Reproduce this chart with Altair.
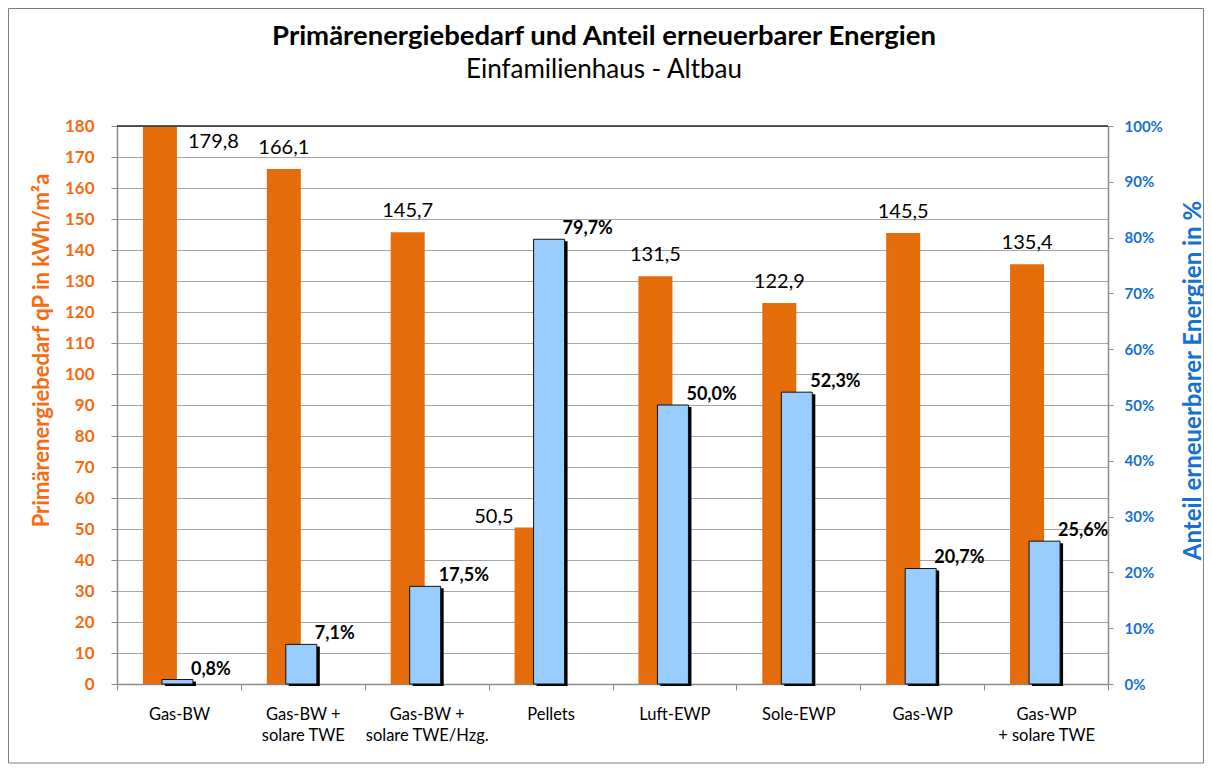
import altair as alt
import pandas as pd

categories = ["Gas-BW", "Gas-BW +|solare TWE", "Gas-BW +|solare TWE/Hzg.", "Pellets",
              "Luft-EWP", "Sole-EWP", "Gas-WP", "Gas-WP|+ solare TWE"]
primary_energy = [179.8, 166.1, 145.7, 50.5, 131.5, 122.9, 145.5, 135.4]
renewable_share = [0.8, 7.1, 17.5, 79.7, 50.0, 52.3, 20.7, 25.6]
left_ticks = list(range(0, 181, 10))
right_ticks = list(range(0, 101, 10))
title_text = "Primärenergiebedarf und Anteil erneuerbarer Energien"
subtitle_text = "Einfamilienhaus - Altbau"

df = pd.DataFrame({"cat": categories, "qp": primary_energy, "ee": renewable_share})

W, H = 991, 558
FONT = "Lato"
ORANGE = "#E46C0A"
ORANGE_TXT = "#F86A10"
BLUE = "#99CCFF"
BLUE_TXT = "#1470D2"
GREY = "#8C8C8C"

x_enc = alt.X("cat:N", sort=categories,
              scale=alt.Scale(paddingInner=0, paddingOuter=0),
              axis=alt.Axis(title=None, labelExpr="split(datum.label, '|')", labelAngle=0,
                            tickBand="extent", domainColor=GREY, domainWidth=1.5,
                            tickColor=GREY, tickSize=6, labelPadding=16, labelFontSize=16.5,
                            labelColor="black", labelLineHeight=21, labelFont=FONT))

y_left = alt.Y("qp:Q", scale=alt.Scale(domain=[0, 180]),
               axis=alt.Axis(values=left_ticks, title="Primärenergiebedarf qP in kWh/m²a",
                             titleColor=ORANGE_TXT, titleFontSize=22, titleFontWeight="bold",
                             titleFont=FONT, titleX=-76, titleY=224, titleAngle=270,
                             titleAlign="center", titleBaseline="middle",
                             labelColor=ORANGE_TXT, labelFontWeight="bold", labelFontSize=17,
                             labelFont=FONT, labelPadding=17, tickSize=6, tickColor=GREY,
                             domainColor=GREY, domainWidth=1.5, grid=True,
                             gridColor="#A6A6A6", gridWidth=1))

y_right = alt.Y("ee:Q", scale=alt.Scale(domain=[0, 100]),
                axis=alt.Axis(orient="right", values=right_ticks, labelExpr="datum.value + '%'",
                              title="Anteil erneuerbarer Energien in %",
                              titleColor=BLUE_TXT, titleFontSize=24, titleFontWeight="bold",
                              titleFont=FONT, titleX=85, titleY=254, titleAngle=270,
                              titleAlign="center", titleBaseline="middle",
                              labelColor=BLUE_TXT, labelFontWeight="bold", labelFontSize=15,
                              labelFont=FONT, labelPadding=11, tickSize=5, tickColor=GREY,
                              domainColor=GREY, domainWidth=1.5, grid=False))

base = alt.Chart(df).transform_calculate(
    qp_lbl="replace(format(datum.qp, '.1f'), '.', ',')",
    ee_lbl="replace(format(datum.ee, '.1f'), '.', ',') + '%'",
)

orange_bars = base.mark_bar(color=ORANGE, width=34, xOffset=-19).encode(x=x_enc, y=y_left)

orange_txt_normal = base.transform_filter(
    "datum.qp < 175 && datum.qp / 180 >= datum.ee / 100"
).mark_text(font=FONT, fontSize=20, color="black", baseline="middle", dx=-19, dy=-21).encode(
    x=x_enc, y=y_left, text="qp_lbl:N")

orange_txt_top = base.transform_filter("datum.qp >= 175").mark_text(
    font=FONT, fontSize=20, color="black", baseline="middle", align="left", dx=9, dy=15
).encode(x=x_enc, y=y_left, text="qp_lbl:N")

orange_txt_low = base.transform_filter("datum.qp / 180 < datum.ee / 100").mark_text(
    font=FONT, fontSize=20, color="black", baseline="middle", align="right", dx=-37, dy=-10
).encode(x=x_enc, y=y_left, text="qp_lbl:N")

frame = alt.Chart(pd.DataFrame({"t": [title_text], "s": [subtitle_text]}))
top_rule = frame.mark_rule(color="#262626", strokeWidth=1.5).encode(
    x=alt.value(0), x2=alt.value(W), y=alt.value(0))
border = frame.mark_rect(fillOpacity=0, stroke="#7F7F7F", strokeWidth=1).encode(
    x=alt.value(-108.5), x2=alt.value(1086.5), y=alt.value(-117.5), y2=alt.value(H + 79))
title_mark = frame.mark_text(font=FONT, fontSize=27.5, fontWeight="bold", color="black",
                             align="center", baseline="middle").encode(
    x=alt.value(487), y=alt.value(-89), text="t:N")
subtitle_mark = frame.mark_text(font=FONT, fontSize=26, color="black",
                                align="center", baseline="middle").encode(
    x=alt.value(487), y=alt.value(-56), text="s:N")

left = alt.layer(border, orange_bars, orange_txt_normal, orange_txt_top, orange_txt_low,
                 top_rule, title_mark, subtitle_mark)

shadow = base.mark_bar(color="black", width=31, xOffset=1.5, yOffset=2).encode(
    x=x_enc, y=y_right)
blue_bars = base.mark_bar(color=BLUE, width=31, xOffset=-1.5, stroke="#111111",
                          strokeWidth=1).encode(x=x_enc, y=y_right)
blue_txt = base.mark_text(font=FONT, fontSize=18, fontWeight="bold", color="black",
                          align="left", baseline="middle", dx=12, dy=-10).encode(
    x=x_enc, y=y_right, text="ee_lbl:N")

right = alt.layer(shadow, blue_bars, blue_txt)

chart = alt.layer(left, right).resolve_scale(y="independent").properties(
    width=W, height=H,
    padding={"left": 109, "top": 118, "right": 96, "bottom": 80},
    autosize=alt.AutoSizeParams(type="none"),
).configure_view(stroke=None).configure(font=FONT)

chart.save("out.html", embed_options={"renderer": "svg", "actions": False})
